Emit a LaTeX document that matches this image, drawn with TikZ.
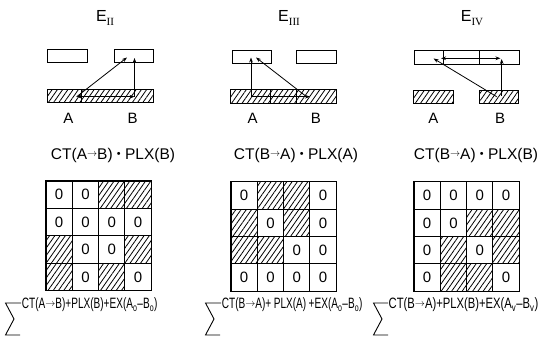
\documentclass[tikz,border=0pt]{standalone}
\usepackage{fontspec}
\setmainfont{Liberation Sans}
\setsansfont{Liberation Sans}
\newfontfamily\condf[FakeStretch=0.67]{Liberation Sans}
\newfontfamily\condw[FakeStretch=0.75]{Liberation Sans}
\newfontfamily\serf{Liberation Serif}
\usepackage{graphicx}
\usetikzlibrary{arrows.meta,patterns.meta}
\newcommand\sar{\raisebox{0.3ex}{\scalebox{0.7}{$\rightarrow$}}}
\newcommand\bul{\raisebox{0.15ex}{\scalebox{0.7}{\textbullet}}}
\tikzset{
  hpat/.style={pattern={Lines[angle=55,distance=4.3pt,line width=0.8pt]}},
  box/.style={draw, line width=0.9pt, inner sep=0pt, outer sep=0pt},
  hbox/.style={box, hpat},
  cell/.style={draw, line width=1.1pt, minimum width=26.3pt, minimum height=27.4pt, inner sep=0pt, outer sep=0pt, font=\fontsize{15}{15}\selectfont},
  hcell/.style={cell, hpat},
  conn/.style={line width=0.8pt, -{Stealth[length=5pt,width=3.6pt]}},
  dconn/.style={line width=0.8pt, {Stealth[length=5pt,width=3.6pt]}-{Stealth[length=5pt,width=3.6pt]}},
  divl/.style={line width=0.6pt},
  ttl/.style={font=\fontsize{16}{16}\selectfont, inner sep=0pt},
  lbl/.style={font=\fontsize{15}{15}\selectfont, inner sep=0pt},
  frm/.style={font=\fontsize{15.5}{16}\selectfont, inner sep=0pt},
  bfrm/.style={font=\condf\fontsize{15}{15}\selectfont, inner sep=0pt, anchor=base west},
  sig/.style={line width=0.9pt}
}
\newcommand\subr[1]{\raisebox{-0.45ex}{\serf\fontsize{11}{11}\selectfont #1}}
\begin{document}
\begin{tikzpicture}[x=1pt,y=-1pt]
\useasboundingbox (0,0) rectangle (550,344);

% ---------- titles ----------
\node[ttl] (t2) at (105,18) {E\subr{II}};
\node[ttl] (t3) at (289,18) {E\subr{III}};
\node[ttl] (t4) at (472,18) {E\subr{IV}};

% ---------- E_II ----------
\node[box, minimum width=40pt, minimum height=12.7pt] (e2tl) at (67.7,56.3) {};
\node[box, minimum width=39.4pt, minimum height=12.7pt] (e2tr) at (134,56.3) {};
\node[hbox, minimum width=106pt, minimum height=13.3pt] (e2b) at (100.7,95.7) {};
\draw[divl] (81.7,89) -- (81.7,102.3);
\coordinate (e2a) at (76.7,96.7);
\coordinate (e2bb) at (134.5,96.7);
\coordinate (e2d) at (127,57.5);
\coordinate (e2v) at (134.5,58);
\draw[conn] (e2a) -- (e2d);
\draw[conn] (e2bb) -- (e2v);
\draw[dconn] (e2bb) -- (e2a);
\node[lbl] (e2A) at (68.3,118) {A};
\node[lbl] (e2B) at (132.7,118) {B};

% ---------- E_III ----------
\node[box, minimum width=38.7pt, minimum height=13.3pt] (e3tl) at (251.7,56.7) {};
\node[box, minimum width=39.3pt, minimum height=13.3pt] (e3tr) at (316.3,56.7) {};
\node[hbox, minimum width=105.3pt, minimum height=14pt] (e3b) at (283.3,96.3) {};
\draw[divl] (270,89.3) -- (270,103.3);
\draw[divl] (296.7,89.3) -- (296.7,103.3);
\coordinate (e3a) at (251,96.7);
\coordinate (e3av) at (251,57.5);
\coordinate (e3h) at (310,96.7);
\coordinate (e3bd) at (305,95.5);
\coordinate (e3d) at (256,57.5);
\draw[conn] (e3a) -- (e3av);
\draw[conn] (e3a) -- (e3h);
\draw[conn] (e3bd) -- (e3d);
\node[lbl] (e3A) at (252.7,118) {A};
\node[lbl] (e3B) at (316,118) {B};

% ---------- E_IV ----------
\node[box, minimum width=104.7pt, minimum height=13.6pt] (e4t) at (466.7,57.5) {};
\draw[divl] (443.3,50.7) -- (443.3,64.3);
\draw[divl] (479.3,50.7) -- (479.3,64.3);
\node[hbox, minimum width=40pt, minimum height=13.3pt] (e4bl) at (433.3,96.7) {};
\node[hbox, minimum width=39pt, minimum height=13.3pt] (e4br) at (498.8,96.7) {};
\coordinate (e4l) at (441,58.3);
\coordinate (e4r) at (500.5,58.3);
\coordinate (e4vb) at (501.7,96);
\coordinate (e4vt) at (501.7,59);
\coordinate (e4db) at (496.7,96.7);
\coordinate (e4dt) at (433.5,58.5);
\draw[dconn] (e4l) -- (e4r);
\draw[conn] (e4vb) -- (e4vt);
\draw[conn] (e4db) -- (e4dt);
\node[lbl] (e4A) at (433.3,118) {A};
\node[lbl] (e4B) at (500,118) {B};

% ---------- middle formulas ----------
\node[frm] (f2) at (113,155) {CT(A\sar B) \bul{} PLX(B)};
\node[frm] (f3) at (296,155) {CT(B\sar A) \bul{} PLX(A)};
\node[frm] (f4) at (476,155) {CT(B\sar A) \bul{} PLX(B)};

% ---------- grids ----------
\foreach \r/\c/\s/\t in {1/1/cell/0,1/2/cell/0,1/3/hcell/{},1/4/hcell/{},
                         2/1/cell/0,2/2/cell/0,2/3/cell/0,2/4/cell/0,
                         3/1/hcell/{},3/2/cell/0,3/3/cell/0,3/4/hcell/{},
                         4/1/hcell/{},4/2/cell/0,4/3/hcell/{},4/4/cell/0}
  \node[\s] (g2-\r-\c) at ({46+(\c-0.5)*26.3},{181+(\r-0.5)*27.4}) {\t};
\foreach \r/\c/\s/\t in {1/1/cell/0,1/2/hcell/{},1/3/hcell/{},1/4/cell/0,
                         2/1/hcell/{},2/2/cell/0,2/3/hcell/{},2/4/cell/0,
                         3/1/hcell/{},3/2/hcell/{},3/3/cell/0,3/4/cell/0,
                         4/1/cell/0,4/2/cell/0,4/3/cell/0,4/4/cell/0}
  \node[\s] (g3-\r-\c) at ({231+(\c-0.5)*26.3},{182+(\r-0.5)*27.3}) {\t};
\foreach \r/\c/\s/\t in {1/1/cell/0,1/2/cell/0,1/3/cell/0,1/4/cell/0,
                         2/1/cell/0,2/2/cell/0,2/3/hcell/{},2/4/hcell/{},
                         3/1/cell/0,3/2/hcell/{},3/3/cell/0,3/4/hcell/{},
                         4/1/cell/0,4/2/hcell/{},4/3/hcell/{},4/4/cell/0}
  \node[\s] (g4-\r-\c) at ({414+(\c-0.5)*26.3},{182+(\r-0.5)*27.3}) {\t};

% ---------- bottom formulas ----------
\draw[sig] (21,303) -- (5.5,303) -- (14,319) -- (5.5,335) -- (20,335);
\node[bfrm] (s2) at (21.7,309) {CT(A\sar B)+PLX(B)+EX(A\textsubscript{o}–B\textsubscript{o})};
\draw[sig] (221,303) -- (205.5,303) -- (214,319) -- (205.5,335) -- (220,335);
\node[bfrm] (s3) at (221.7,309) {CT(B\sar A)+\,PLX(A)\,+EX(A\textsubscript{o}–B\textsubscript{o})};
\draw[sig] (388,303) -- (373.5,303) -- (382,319) -- (373.5,335) -- (388,335);
\node[bfrm, font=\condw\fontsize{15}{15}\selectfont] (s4) at (388.5,309) {CT(B\sar A)+PLX(B)+EX(A\textsubscript{v}–B\textsubscript{v})};
\end{tikzpicture}
\end{document}
